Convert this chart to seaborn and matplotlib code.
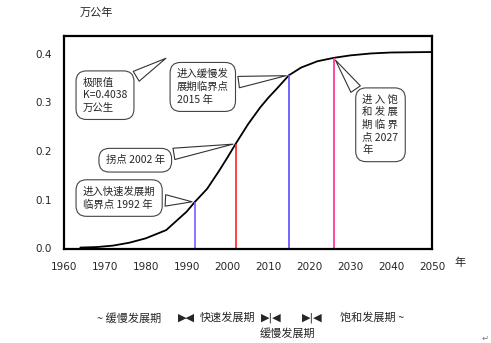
import matplotlib
matplotlib.use("Agg")
import matplotlib.pyplot as plt
import seaborn as sns
import pandas as pd

# ---- data ----
years = [1964, 1968, 1972, 1976, 1980, 1985, 1990, 1992, 1995, 1998, 2000, 2002, 2005, 2008, 2010, 2012, 2015, 2018, 2022, 2026, 2030, 2035, 2040, 2050]
values = [0.001, 0.002, 0.005, 0.011, 0.020, 0.037, 0.075, 0.095, 0.122, 0.160, 0.187, 0.215, 0.255, 0.290, 0.310, 0.328, 0.356, 0.372, 0.385, 0.392, 0.397, 0.401, 0.403, 0.404]

vline_years = [1992, 2002, 2015, 2026]
vline_tops = [0.095, 0.215, 0.356, 0.392]
vline_colors = ["#7b5cff", "#ff2020", "#5b4cff", "#ff2a8a"]

xticks = [1960, 1970, 1980, 1990, 2000, 2010, 2020, 2030, 2040, 2050]
yticks = [0.0, 0.1, 0.2, 0.3, 0.4]

notes = [
    ("极限值\nK=0.4038\n万公生", 1964.6, 0.315, 1985.5, 0.394),
    ("进入缓慢发\n展期临界点\n2015 年", 1987.6, 0.332, 2015, 0.356),
    ("进 入 饱\n和 发 展\n期 临 界\n点 2027\n年", 2033.0, 0.254, 2026, 0.392),
    ("拐点 2002 年", 1970.2, 0.181, 2002, 0.215),
    ("进入快速发展期\n临界点 1992 年", 1964.6, 0.103, 1992, 0.095),
]

sns.set_theme(style="white")
plt.rcParams['font.family'] = ['Noto Sans CJK SC', 'DejaVu Sans']

fig = plt.figure(figsize=(4.91, 3.43), dpi=100)
ax = fig.add_axes([64/491, 1-249/343, (432-64)/491, (249-36)/343])

df = pd.DataFrame({"year": years, "value": values})
sns.lineplot(data=df, x="year", y="value", ax=ax, color="black", linewidth=1.3)

ax.vlines(vline_years, 0, vline_tops, colors=vline_colors, linewidth=1.2)

ax.set_xlim(1960, 2050)
ax.set_ylim(-0.002, 0.437)
ax.set_xticks(xticks)
ax.set_xticklabels([str(t) for t in xticks], family=['DejaVu Sans'])
ax.set_yticks(yticks)
ax.set_yticklabels([f"{t:.1f}" for t in yticks], family=['DejaVu Sans'])
ax.tick_params(axis='both', labelsize=7.5, length=3, width=0.8, direction='out', color='black', pad=6)
ax.tick_params(axis='x', length=0, pad=9)
ax.set_xlabel("")
ax.set_ylabel("")
for s in ax.spines.values():
    s.set_color("black")
    s.set_linewidth(1.6)

for txt, tx, ty, px, py in notes:
    ax.annotate(txt, xy=(px, py), xytext=(tx, ty), ha='left', va='center',
                fontsize=7.5, linespacing=1.3,
                bbox=dict(boxstyle="round,pad=0.65,rounding_size=1.0", fc="white", ec="#444444", lw=0.8),
                arrowprops=dict(arrowstyle="wedge,tail_width=1.1,shrink_factor=0.5", fc="white", ec="#333333", lw=0.8))

fig.text(80/491, 1-13/343, "万公年", fontsize=8, ha='left', va='center')
fig.text(460/491, 1-263/343, "年", fontsize=8, ha='center', va='center')

yb = 1-318/343
fig.text(129/491, yb, "~ 缓慢发展期", fontsize=8, ha='center', va='center')
fig.text(186/491, yb, "▶◀", fontsize=8, ha='center', va='center', family=['DejaVu Sans'])
fig.text(228/491, yb, "快速发展期", fontsize=8, ha='center', va='center')
fig.text(271/491, yb, "▶|◀", fontsize=8, ha='center', va='center', family=['DejaVu Sans'])
fig.text(312/491, yb, "▶|◀", fontsize=8, ha='center', va='center', family=['DejaVu Sans'])
fig.text(372/491, yb, "饱和发展期 ~", fontsize=8, ha='center', va='center')
fig.text(287/491, 1-333/343, "缓慢发展期", fontsize=8, ha='center', va='center')
fig.text(485/491, 1-338/343, "↵", fontsize=6, ha='center', va='center', color='#777777', family=['DejaVu Sans'])

fig.savefig("out.png", dpi=100)
